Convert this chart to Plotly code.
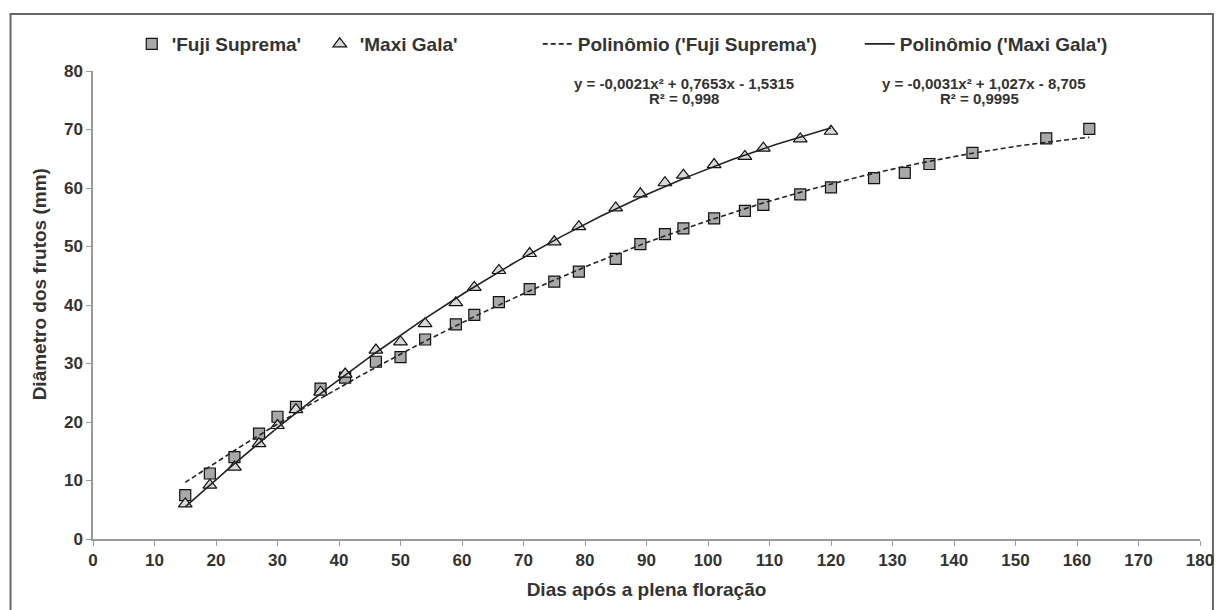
import numpy as np
import plotly.graph_objects as go

# ---- data ----
dias_gala = [15, 19, 23, 27, 30, 33, 37, 41, 46, 50, 54, 59, 62, 66, 71, 75, 79,
             85, 89, 93, 96, 101, 106, 109, 115, 120]
diam_gala = [6.0, 9.2, 12.3, 16.3, 19.4, 22.1, 25.1, 28.2, 32.3, 33.7, 36.8, 40.4,
             43.0, 45.9, 48.8, 50.8, 53.4, 56.6, 59.0, 60.9, 62.2, 64.0, 65.4, 66.8,
             68.4, 69.7]

dias_fuji = [15, 19, 23, 27, 30, 33, 37, 41, 46, 50, 54, 59, 62, 66, 71, 75, 79,
             85, 89, 93, 96, 101, 106, 109, 115, 120, 127, 132, 136, 143, 155, 162]
diam_fuji = [7.5, 11.2, 14.0, 18.0, 20.9, 22.6, 25.7, 27.6, 30.3, 31.1, 34.1, 36.7,
             38.3, 40.5, 42.7, 44.0, 45.7, 47.9, 50.4, 52.1, 53.1, 54.8, 56.1, 57.1,
             58.9, 60.1, 61.7, 62.6, 64.1, 66.0, 68.5, 70.1]

# equation labels printed on the chart
eq_fuji = "y = -0,0021x² + 0,7653x - 1,5315"
r2_fuji = "R² = 0,998"
eq_gala = "y = -0,0031x² + 1,027x - 8,705"
r2_gala = "R² = 0,9995"

x_ticks = list(range(0, 181, 10))
y_ticks = list(range(0, 81, 10))

x_title = "Dias após a plena floração"
y_title = "Diâmetro dos frutos (mm)"

FONT = "Liberation Sans, Arial, sans-serif"
TXT = "#333333"

# second-order polynomial trendlines fitted to the series (as the spreadsheet does)
def poly_curve(x, y, n=200):
    coef = np.polyfit(x, y, 2)
    xs = np.linspace(min(x), max(x), n)
    return xs, np.polyval(coef, xs)

xf, yf = poly_curve(dias_fuji, diam_fuji)
xg, yg = poly_curve(dias_gala, diam_gala)

fig = go.Figure()
fig.add_trace(go.Scatter(
    x=dias_fuji, y=diam_fuji, mode="markers", name="'Fuji Suprema'",
    legendwidth=143,
    marker=dict(symbol="square", size=11, color="#a8a8a8",
                line=dict(color="#111111", width=1.2))))
fig.add_trace(go.Scatter(
    x=dias_gala, y=diam_gala, mode="markers", name="'Maxi Gala'",
    legendwidth=173,
    marker=dict(symbol="triangle-up", size=12, color="#d8d8d8",
                line=dict(color="#111111", width=1.2))))
fig.add_trace(go.Scatter(
    x=xf, y=yf, mode="lines", name="Polinômio ('Fuji Suprema')",
    legendwidth=277,
    line=dict(color="#222222", width=1.6, dash="5px,3px")))
fig.add_trace(go.Scatter(
    x=xg, y=yg, mode="lines", name="Polinômio ('Maxi Gala')",
    line=dict(color="#222222", width=1.6)))

eq_font = dict(family=FONT, size=15, color=TXT, weight="bold")
for xc, txt, yy in [(0.534, eq_fuji, 0.973), (0.534, r2_fuji, 0.941),
                    (0.805, eq_gala, 0.973), (0.801, r2_gala, 0.941)]:
    fig.add_annotation(xref="paper", yref="paper", x=xc, y=yy, text=txt,
                       showarrow=False, font=eq_font,
                       xanchor="center", yanchor="middle")

# y axis title (placed like the original, slightly above centre)
fig.add_annotation(xref="paper", yref="paper", x=-0.0475, y=0.545, text=y_title,
                   textangle=-90, showarrow=False,
                   font=dict(family=FONT, size=19, color=TXT, weight="bold"),
                   xanchor="center", yanchor="middle")

# outer frame
fig.add_shape(type="rect", xref="paper", yref="paper",
              x0=-0.0745, x1=1.0117, y0=-0.3, y1=1.1218,
              line=dict(color="#666666", width=2), layer="below")

fig.update_layout(
    width=1218, height=602,
    margin=dict(l=85, r=18, t=63, b=71),
    paper_bgcolor="white", plot_bgcolor="white",
    font=dict(family=FONT, color=TXT),
    showlegend=True,
    legend=dict(orientation="h", x=0.035, y=1.0577, xanchor="left", yanchor="middle",
                font=dict(family=FONT, size=19, color=TXT, weight="bold"),
                bgcolor="rgba(0,0,0,0)"),
    xaxis=dict(range=[0, 180], tickvals=x_ticks, ticktext=[str(v) for v in x_ticks],
               showgrid=False, zeroline=False, showline=True, linecolor="#9a9a9a",
               linewidth=1.5, ticks="outside", ticklen=5, tickcolor="#9a9a9a",
               tickfont=dict(family=FONT, size=17, color=TXT, weight="bold"),
               title=dict(text=x_title, standoff=14,
                          font=dict(family=FONT, size=19, color=TXT, weight="bold"))),
    yaxis=dict(range=[0, 80], tickvals=y_ticks, ticktext=[str(v) for v in y_ticks],
               showgrid=False, zeroline=False, showline=True, linecolor="#9a9a9a",
               linewidth=1.5, ticks="outside", ticklen=5, tickcolor="#9a9a9a",
               tickfont=dict(family=FONT, size=17, color=TXT, weight="bold")),
)

fig.write_html("out.html")
